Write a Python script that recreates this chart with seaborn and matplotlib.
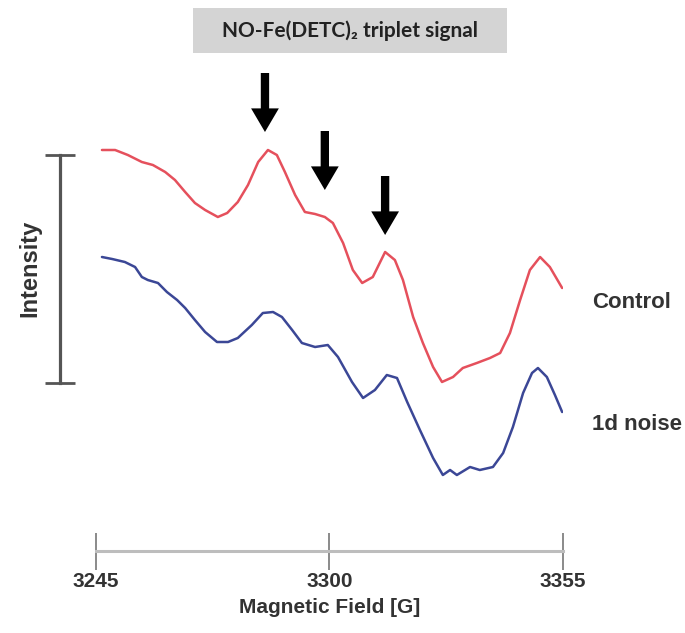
import matplotlib
matplotlib.use("Agg")
import matplotlib.pyplot as plt
from matplotlib.patches import Rectangle
import seaborn as sns
import pandas as pd

# ---- data (Magnetic field in G, intensity in arbitrary units) ----
control_field = [3246.4, 3249.5, 3252.5, 3255.8, 3258.4, 3261.3, 3263.6, 3266.0, 3268.3, 3270.7,
                 3273.7, 3275.9, 3278.4, 3280.8, 3283.2, 3285.5, 3287.6, 3289.5, 3291.9, 3294.2,
                 3296.6, 3298.9, 3300.8, 3303.2, 3305.5, 3307.7, 3310.2, 3313.1, 3315.4, 3317.3,
                 3319.7, 3322.0, 3324.4, 3326.5, 3329.1, 3331.4, 3334.7, 3337.8, 3340.2, 3342.5,
                 3344.9, 3347.2, 3349.6, 3351.9, 3354.8]
control_intensity = [40.1, 40.1, 39.6, 38.9, 38.6, 37.9, 37.1, 35.9, 34.8, 34.1,
                     33.4, 33.8, 34.9, 36.6, 38.9, 40.1, 39.6, 37.9, 35.6, 33.9,
                     33.7, 33.4, 32.8, 30.8, 28.1, 26.8, 27.4, 29.9, 29.1, 27.1,
                     23.4, 20.8, 18.4, 16.9, 17.4, 18.3, 18.8, 19.3, 19.8, 21.8,
                     25.1, 28.1, 29.4, 28.4, 26.3]

noise_field = [3246.4, 3248.8, 3251.8, 3254.2, 3255.8, 3257.2, 3259.6, 3261.7, 3264.1, 3266.0,
               3268.3, 3270.7, 3273.5, 3276.1, 3278.4, 3281.7, 3284.3, 3286.7, 3288.8, 3291.2,
               3293.5, 3296.6, 3299.6, 3302.0, 3305.3, 3307.9, 3310.7, 3313.5, 3315.9, 3318.3,
               3321.3, 3324.4, 3326.7, 3328.4, 3330.0, 3333.1, 3335.4, 3338.5, 3340.9, 3343.2,
               3345.6, 3347.7, 3349.1, 3351.2, 3353.1, 3354.8]
noise_intensity = [29.4, 29.2, 28.9, 28.4, 27.4, 27.1, 26.8, 25.9, 25.1, 24.3,
                   23.1, 21.9, 20.9, 20.9, 21.3, 22.6, 23.8, 23.9, 23.4, 22.1,
                   20.8, 20.4, 20.6, 19.4, 16.9, 15.3, 16.1, 17.6, 17.3, 14.9,
                   12.1, 9.3, 7.6, 8.1, 7.6, 8.4, 8.1, 8.4, 9.8, 12.4,
                   15.8, 17.8, 18.3, 17.4, 15.6, 13.9]

series_names = ["Control", "1d noise"]
x_ticks = [3245, 3300, 3355]
triplet_fields = [3284.8, 3298.9, 3313.1]
arrow_tips = [41.9, 36.1, 31.6]
scale_bar = [16.8, 39.6]
title_text = "NO-Fe(DETC)\u2082 triplet signal"

df = pd.concat([
    pd.DataFrame({"field": control_field, "intensity": control_intensity, "sample": series_names[0]}),
    pd.DataFrame({"field": noise_field, "intensity": noise_intensity, "sample": series_names[1]}),
])

# ---- style ----
sns.set_style("white")
plt.rcParams["font.family"] = ["Liberation Sans", "DejaVu Sans"]

W, H = 685, 633
PT = 72 / 100  # points per pixel at dpi 100
fig = plt.figure(figsize=(W / 100, H / 100), dpi=100)
ax = fig.add_axes([96 / W, (H - 551) / H, 467 / W, 451 / H])

palette = {series_names[0]: "#e5505c", series_names[1]: "#3b4796"}
sns.lineplot(data=df, x="field", y="intensity", hue="sample", palette=palette,
             linewidth=1.8, legend=False, ax=ax, sort=False)

ax.set_xlim(3245, 3355)
ax.set_ylim(0, 45.1)

# x axis
ax.spines["top"].set_visible(False)
ax.spines["right"].set_visible(False)
ax.spines["bottom"].set_color("#bdbdbd")
ax.spines["bottom"].set_linewidth(2.2)
ax.set_xticks(x_ticks)
ax.set_xticklabels([str(t) for t in x_ticks])
ax.tick_params(axis="x", bottom=True, direction="inout", length=37 * PT, width=1.4,
               color="#8a8a8a", pad=2, labelsize=15, labelcolor="#333333")
for lab in ax.get_xticklabels():
    lab.set_fontweight("bold")
ax.set_xlabel("Magnetic Field [G]", fontsize=15, fontweight="bold", color="#333333", labelpad=5)

# y axis as a scale bar
ax.spines["left"].set_position(("outward", 36 * PT))
ax.spines["left"].set_bounds(scale_bar[0], scale_bar[1])
ax.spines["left"].set_color("#555555")
ax.spines["left"].set_linewidth(2.3)
ax.set_yticks(scale_bar)
ax.set_yticklabels([])
ax.tick_params(axis="y", left=True, direction="inout", length=30 * PT, width=2.0, color="#555555")
ax.set_ylabel("Intensity", fontsize=17, fontweight="bold", color="#333333", va="center")
ax.yaxis.set_label_coords((30 - 96) / 467, (551 - 268) / 451)

# arrows for triplet
for fx, tip in zip(triplet_fields, arrow_tips):
    ax.annotate("", xy=(fx, tip), xytext=(fx, tip + 5.9), annotation_clip=False,
                arrowprops=dict(arrowstyle="simple,head_length=0.85,head_width=1.0,tail_width=0.3",
                                mutation_scale=20, color="black", shrinkA=0, shrinkB=0, lw=0))

# series labels
fig.text(592 / W, 1 - 302 / H, series_names[0], fontsize=16, fontweight="bold",
         color="#333333", ha="left", va="center")
fig.text(592 / W, 1 - 424 / H, series_names[1], fontsize=16, fontweight="bold",
         color="#333333", ha="left", va="center")

# title box
fig.patches.append(Rectangle((193 / W, 1 - 53 / H), 314 / W, 45 / H,
                             transform=fig.transFigure, facecolor="#d4d4d4", edgecolor="none"))
fig.text(350 / W, 1 - 31 / H, title_text, fontsize=15, fontweight="bold",
         family=["Lato", "DejaVu Sans"], color="#222222", ha="center", va="center")

fig.savefig("out.png", dpi=100)
